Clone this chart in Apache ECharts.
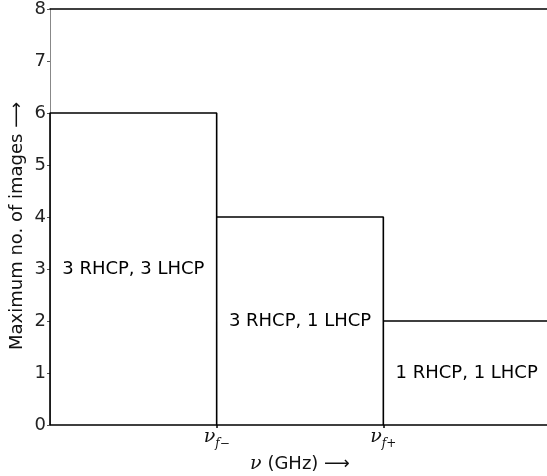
<!DOCTYPE html>
<html>
<head>
<meta charset="utf-8">
<script src="https://cdn.jsdelivr.net/npm/echarts@6/dist/echarts.min.js"></script>
<style>
  html, body { margin: 0; padding: 0; background: #fff; }
  #main { width: 547px; height: 476px; }
</style>
</head>
<body>
<div id="main"></div>
<script>
// frequency band edges (0 .. nu_f- .. nu_f+ .. end) and image count per band
const bandEdges = [0, 1, 2, 3];
const maxImages = [6, 4, 2];
const bandTexts = ['3 RHCP, 3 LHCP', '3 RHCP, 1 LHCP', '1 RHCP, 1 LHCP'];
const textLevels = [3, 2, 1];
const edgeTicks = [1, 2];
const edgeSubs = ['f\u2212', 'f+'];
const yTicks = [0, 1, 2, 3, 4, 5, 6, 7, 8];

const font = 'DejaVu Sans';
const mathFont = 'DejaVu Serif';

// step outline: rise at each band start, drop back to 0 at each inner edge
const stepPoints = [[bandEdges[0], 0]];
maxImages.forEach((v, i) => {
  stepPoints.push([bandEdges[i], v]);
  stepPoints.push([bandEdges[i + 1], v]);
  if (i < maxImages.length - 1) stepPoints.push([bandEdges[i + 1], 0]);
});

const textPoints = bandTexts.map((t, i) => [(bandEdges[i] + bandEdges[i + 1]) / 2, textLevels[i], t]);

const myChart = echarts.init(document.getElementById('main'), null, { renderer: 'canvas' });

myChart.setOption({
  animation: false,
  grid: { left: 50, right: -3, top: 9, bottom: 51, outerBoundsMode: 'none' },
  xAxis: [
    {
      type: 'value',
      min: bandEdges[0],
      max: bandEdges[bandEdges.length - 1],
      interval: 1,
      name: '{nu|\u03BD} (GHz) \u27F6',
      nameLocation: 'middle',
      nameGap: 30,
      nameMoveOverlap: false,
      nameTextStyle: {
        fontFamily: font,
        fontSize: 18,
        color: '#111',
        rich: {
          nu: { fontFamily: mathFont, fontStyle: 'italic', fontSize: 19, color: '#111' }
        }
      },
      axisLine: { lineStyle: { color: '#000', width: 1.5 } },
      axisTick: { show: true, customValues: edgeTicks, length: 3, lineStyle: { color: '#000', width: 1.5 } },
      axisLabel: {
        customValues: edgeTicks,
        margin: 3,
        formatter: (v) => {
          const i = edgeTicks.indexOf(v);
          return i < 0 ? '' : '{nu|\u03BD}{sub|' + edgeSubs[i] + '}';
        },
        rich: {
          nu: { fontFamily: mathFont, fontStyle: 'italic', fontSize: 19, color: '#111', lineHeight: 22, verticalAlign: 'top' },
          sub: { fontFamily: mathFont, fontStyle: 'italic', fontSize: 12, color: '#111', lineHeight: 12, verticalAlign: 'bottom' }
        }
      },
      splitLine: { show: false }
    },
    {
      type: 'value',
      position: 'top',
      min: bandEdges[0],
      max: bandEdges[bandEdges.length - 1],
      axisLine: { show: true, lineStyle: { color: '#000', width: 1.5 } },
      axisTick: { show: false },
      axisLabel: { show: false },
      splitLine: { show: false }
    }
  ],
  yAxis: {
    type: 'value',
    min: yTicks[0],
    max: yTicks[yTicks.length - 1],
    interval: 1,
    name: 'Maximum no. of images \u27F6',
    nameLocation: 'middle',
    nameGap: 24,
    nameMoveOverlap: false,
    nameTextStyle: { fontFamily: font, fontSize: 18, color: '#111', padding: [0, 0, 0, -18] },
    axisLine: { show: true, lineStyle: { color: '#888', width: 1 } },
    axisTick: { show: true, length: 3, lineStyle: { color: '#555', width: 1 } },
    axisLabel: { fontFamily: font, fontSize: 18, color: '#222', margin: 4 },
    splitLine: { show: false }
  },
  series: [
    {
      type: 'line',
      data: stepPoints,
      symbol: 'none',
      clip: false,
      lineStyle: { color: '#000', width: 1.6 }
    },
    {
      type: 'scatter',
      data: textPoints,
      symbolSize: 0,
      itemStyle: { opacity: 1 },
      label: {
        show: true,
        position: 'inside',
        formatter: (p) => p.data[2],
        fontFamily: font,
        fontSize: 18,
        color: '#000',
        opacity: 1,
        textBorderWidth: 0
      }
    }
  ]
});
</script>
</body>
</html>
